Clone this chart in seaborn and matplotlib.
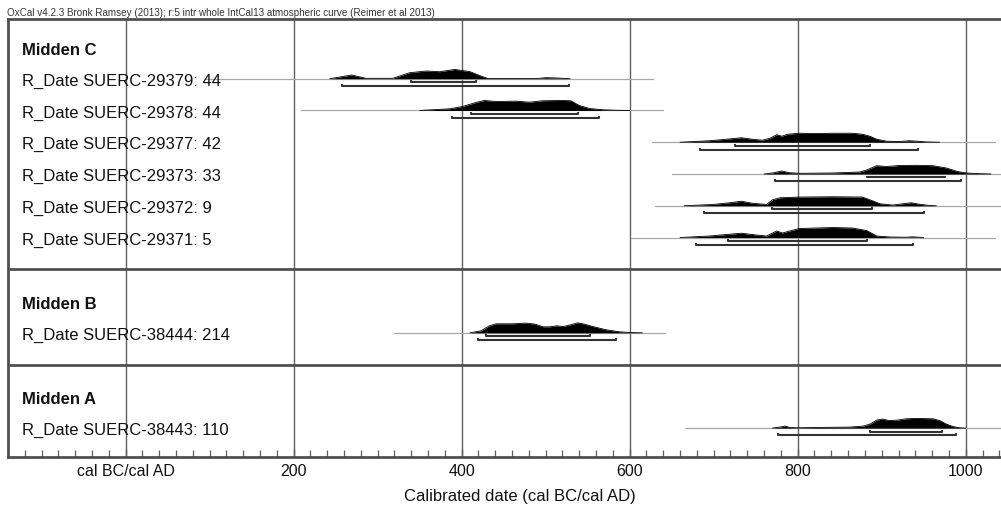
import numpy as np
import pandas as pd
import matplotlib
matplotlib.use("Agg")
import matplotlib.pyplot as plt
import matplotlib.transforms as mtransforms
from matplotlib.ticker import MultipleLocator, FixedLocator, FixedFormatter
import seaborn as sns

# ---------------- data ----------------
header_text = ("OxCal v4.2.3 Bronk Ramsey (2013); r:5 intr whole IntCal13 "
               "atmospheric curve (Reimer et al 2013)")
group_names = ["Midden C", "Midden B", "Midden A"]

labels_C = ["R_Date SUERC-29379: 44", "R_Date SUERC-29378: 44",
            "R_Date SUERC-29377: 42", "R_Date SUERC-29373: 33",
            "R_Date SUERC-29372: 9", "R_Date SUERC-29371: 5"]
labels_B = ["R_Date SUERC-38444: 214"]
labels_A = ["R_Date SUERC-38443: 110"]

# probability density outlines: calendar years and relative heights (0-10)
yr_29379 = [243, 269, 286, 318, 338, 358, 374, 392, 410, 425, 431, 489, 500, 511, 529]
pd_29379 = [0, 3.7, 0.4, 0.4, 6.0, 7.7, 7.0, 9.3, 7.0, 2.0, 0.3, 0.2, 1.0, 0.8, 0]

yr_29378 = [350, 386, 401, 417, 427, 441, 465, 481, 496, 520, 530, 540, 552, 568, 584, 600]
pd_29378 = [0, 1.7, 4.0, 8.0, 10.0, 9.0, 9.3, 8.3, 9.7, 10.0, 9.7, 5.0, 2.0, 0.7, 0.2, 0]

yr_29377 = [660, 695, 715, 733, 746, 758, 767, 775, 781, 788, 802, 822, 842, 865, 877,
            886, 894, 906, 921, 933, 943, 953, 969]
pd_29377 = [0, 1.5, 3.0, 4.5, 3.0, 2.0, 4.0, 7.5, 6.0, 8.0, 9.0, 8.7, 9.0, 9.0, 8.0,
            6.0, 3.0, 1.0, 0.7, 1.5, 1.0, 0.3, 0]

yr_29373 = [760, 770, 781, 790, 802, 842, 874, 882, 894, 906, 921, 941, 961, 977, 990,
            1001, 1017, 1030]
pd_29373 = [0, 1.0, 3.0, 1.3, 0.7, 1.0, 2.0, 4.0, 8.3, 7.5, 8.5, 8.7, 8.3, 6.0, 2.5,
            1.0, 0.3, 0]

yr_29372 = [665, 699, 719, 733, 746, 763, 770, 779, 802, 842, 877, 889, 898, 913, 935,
            945, 957, 965]
pd_29372 = [0, 1.3, 3.0, 4.5, 2.5, 1.3, 6.0, 8.0, 8.7, 9.0, 8.7, 5.0, 2.0, 0.7, 3.0,
            1.5, 0.3, 0]

yr_29371 = [660, 695, 715, 733, 751, 763, 770, 775, 782, 788, 802, 822, 842, 865, 882,
            894, 910, 929, 937, 950]
pd_29371 = [0, 1.5, 3.0, 4.3, 2.5, 1.5, 4.5, 6.5, 4.5, 6.0, 9.0, 9.5, 10.0, 9.5, 7.0,
            1.5, 0.5, 0.3, 0.7, 0]

yr_38444 = [410, 423, 433, 441, 461, 477, 487, 497, 505, 513, 521, 531, 538, 546, 556,
            572, 588, 600, 615]
pd_38444 = [0, 2.0, 7.0, 9.0, 9.0, 9.7, 8.7, 6.0, 6.0, 7.0, 6.3, 8.3, 10.0, 8.7, 6.3,
            3.0, 1.0, 0.3, 0]

yr_38443 = [770, 781, 785, 790, 798, 830, 862, 878, 886, 894, 901, 909, 919, 929, 941,
            961, 969, 977, 985, 993, 1000]
pd_38443 = [0, 1.3, 2.0, 0.7, 0.3, 0.7, 1.0, 2.0, 4.0, 8.0, 9.0, 7.5, 8.0, 9.3, 9.7,
            9.3, 7.5, 4.0, 1.5, 0.3, 0]

# 68.2% and 95.4% ranges (cal AD)
r68_C = [[340, 417], [411, 538], [725, 886], [882, 975], [769, 888], [717, 882]]
r95_C = [[257, 528], [388, 563], [684, 943], [773, 994], [688, 950], [679, 937]]
r68_B = [[429, 553]]
r95_B = [[419, 584]]
r68_A = [[886, 972]]
r95_A = [[777, 988]]

# extent of the thin likelihood line under each distribution
line_C = [[95, 628], [209, 640], [626, 1035], [650, 1045], [630, 1045], [601, 1035]]
line_B = [[320, 642]]
line_A = [[666, 1045]]

tick_values = [0, 200, 400, 600, 800, 1000]
tick_labels = ["cal BC/cal AD", "200", "400", "600", "800", "1000"]
x_label = "Calibrated date (cal BC/cal AD)"

# ---------------- figure ----------------
sns.set_theme(style="white")
plt.rcParams["font.family"] = ["Liberation Sans", "DejaVu Sans"]

W, H = 1001, 526
fig = plt.figure(figsize=(W / 100, H / 100), dpi=100)
ax = fig.add_axes([8 / W, 1 - 457 / H, (W - 8) / W, (457 - 19) / H])

ax.set_xlim(-140, 1042)
ax.set_ylim(12.91, -0.88)

dens_C = [(yr_29379, pd_29379), (yr_29378, pd_29378), (yr_29377, pd_29377),
          (yr_29373, pd_29373), (yr_29372, pd_29372), (yr_29371, pd_29371)]
dens_B = [(yr_38444, pd_38444)]
dens_A = [(yr_38443, pd_38443)]

groups = [
    (group_names[0], labels_C, dens_C, r68_C, r95_C, line_C),
    (group_names[1], labels_B, dens_B, r68_B, r95_B, line_B),
    (group_names[2], labels_A, dens_A, r68_A, r95_A, line_A),
]

grid_col = "#5e5e5e"
frame_col = "#505050"
tr_text = mtransforms.blended_transform_factory(ax.transAxes, ax.transData)
label_x = (22 - 8) / (W - 8)
hscale = 0.315 / 10.0

slot = 0
separators = []
for gi, (gname, labels, dens, r68, r95, lines) in enumerate(groups):
    ax.text(label_x, slot + 0.24, gname, transform=tr_text, fontsize=12,
            fontweight="bold", color="#111111", va="baseline", ha="left", zorder=6)
    slot += 1
    for lab, (yrs, hts), a68, a95, ln in zip(labels, dens, r68, r95, lines):
        y0 = slot
        ax.text(label_x, y0 + 0.22, lab, transform=tr_text, fontsize=12,
                color="#111111", va="baseline", ha="left", zorder=6)
        ax.plot(ln, [y0, y0], color="#a8a8a8", lw=0.9, zorder=3)
        yrs = np.asarray(yrs, float)
        top = y0 - np.asarray(hts, float) * hscale
        ax.fill_between(yrs, y0, top, color="black", lw=0, zorder=4)
        df = pd.DataFrame({"year": yrs, "top": top})
        sns.lineplot(data=df, x="year", y="top", ax=ax, color="black", lw=0.6,
                     sort=False, estimator=None, zorder=4)
        for (a, b), off in ((a68, 0.11), (a95, 0.23)):
            yb = y0 + off
            ax.plot([a, a, b, b], [yb - 0.06, yb, yb, yb - 0.06],
                    color="#333333", lw=1.5, solid_capstyle="butt", zorder=5)
        slot += 1
    if gi < len(groups) - 1:
        separators.append(slot)
        slot += 1

for s in separators:
    ax.axhline(s, color=frame_col, lw=2.0, zorder=5)

for v in tick_values:
    ax.axvline(v, color=grid_col, lw=1.0, zorder=2)

ax.xaxis.set_major_locator(FixedLocator(tick_values))
ax.xaxis.set_major_formatter(FixedFormatter(tick_labels))
ax.xaxis.set_minor_locator(MultipleLocator(20))
ax.tick_params(axis="x", which="major", direction="in", length=6, width=1.0,
               colors=grid_col, labelcolor="#111111", labelsize=11.5, pad=5,
               bottom=True)
ax.tick_params(axis="x", which="minor", direction="in", length=5, width=0.9,
               color=grid_col, bottom=True)
ax.set_yticks([])
ax.set_xlabel("")
ax.set_ylabel("")

for side in ("top", "left", "bottom"):
    ax.spines[side].set_visible(True)
    ax.spines[side].set_color(frame_col)
    ax.spines[side].set_linewidth(2.0)
ax.spines["right"].set_visible(False)

fig.text(7 / W, 1 - 16.5 / H, header_text, fontsize=7.1, color="#333333",
         ha="left", va="baseline")
fig.text(520 / W, 1 - 497 / H, x_label, fontsize=12, color="#111111",
         ha="center", va="center")

fig.savefig("out.png", dpi=100)
